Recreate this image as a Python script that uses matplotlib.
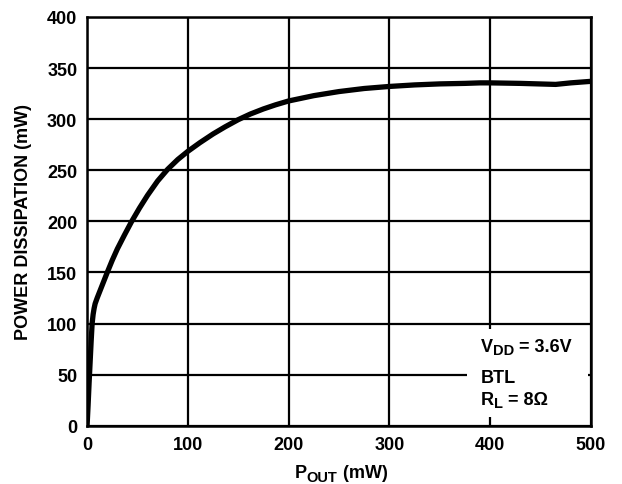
"""Power dissipation vs output power (BTL, 8 ohm load, 3.6 V supply)."""

import matplotlib

matplotlib.use("Agg")
import matplotlib.pyplot as plt
from matplotlib.patches import Rectangle
from matplotlib.transforms import IdentityTransform

plt.rcParams["font.family"] = ["Liberation Sans", "DejaVu Sans"]
plt.rcParams["font.weight"] = "bold"

# curve
p_out = [0, 1, 2, 3, 4, 5, 6, 7, 8, 10, 12, 15, 20, 25, 30, 37, 44, 52, 60,
         70, 80, 90, 100, 112, 125, 137, 150, 162, 175, 187, 200, 225, 250,
         275, 300, 325, 350, 375, 390, 400, 430, 465, 480, 500]
p_diss = [0, 20, 42, 62, 82, 100, 109, 115, 119.5, 125, 130, 137.5, 150,
          162, 173, 186.5, 199.5, 213, 225.5, 239.5, 251, 260.5, 268.5, 277,
          285.5, 292.5, 299.5, 305, 310, 314, 317.8, 323, 327, 330, 332,
          333.5, 334.5, 335, 335.5, 335.5, 335, 334, 335.5, 337]

x_ticks = [0, 100, 200, 300, 400, 500]
y_ticks = [0, 50, 100, 150, 200, 250, 300, 350, 400]

FS = 13
SUB_FS = 10.5


def _rich(fig, x_px, y_px, parts, center=False):
    """Draw text pieces (text, is_sub) one after another, baseline at y_px."""
    renderer = fig.canvas.get_renderer()
    drawn = []
    for text, is_sub in parts:
        size = SUB_FS if is_sub else FS
        dy = -3.5 if is_sub else 0
        t = fig.text(0, y_px + dy, text, fontsize=size, fontweight="bold",
                     ha="left", va="baseline", transform=IdentityTransform())
        drawn.append(t)
    widths = [t.get_window_extent(renderer).width for t in drawn]
    x = x_px - sum(widths) / 2 if center else x_px
    for t, w in zip(drawn, widths):
        t.set_x(x)
        x += w


def main() -> int:
    fig = plt.figure(figsize=(6.22, 4.85), dpi=100)
    ax = fig.add_axes([0.140, 0.120, 0.810, 0.843])

    ax.set_xlim(0, 500)
    ax.set_ylim(0, 400)
    ax.set_xticks(x_ticks)
    ax.set_yticks(y_ticks)
    ax.set_axisbelow(True)
    ax.grid(True, color="black", linewidth=1.6)
    for spine in ax.spines.values():
        spine.set_linewidth(1.8)
    ax.tick_params(length=0, labelsize=FS, pad=7)

    # white patch behind the conditions text
    ax.add_patch(Rectangle((377, 9), 120, 86, facecolor="white",
                           edgecolor="none", zorder=1))

    ax.plot(p_out, p_diss, color="black", linewidth=3.8,
            solid_joinstyle="round", solid_capstyle="butt", zorder=3)

    ax.set_ylabel("POWER DISSIPATION (mW)", fontsize=FS, fontweight="bold",
                  labelpad=11)

    H = fig.bbox.height
    to_px = ax.transData.transform
    _rich(fig, to_px((391, 73.5))[0], to_px((391, 73.5))[1],
          [("V", False), ("DD", True), (" = 3.6V", False)])
    _rich(fig, to_px((391, 42.5))[0], to_px((391, 42.5))[1], [("BTL", False)])
    _rich(fig, to_px((391, 21.5))[0], to_px((391, 21.5))[1],
          [("R", False), ("L", True), (" = 8Ω", False)])

    # x axis title with a full-height subscript, like the reference
    _rich(fig, to_px((252, 0))[0], H - 478,
          [("P", False), ("OUT", True), (" (mW)", False)], center=True)

    fig.savefig("out.png", dpi=100)
    return 0


if __name__ == "__main__":
    raise SystemExit(main())
